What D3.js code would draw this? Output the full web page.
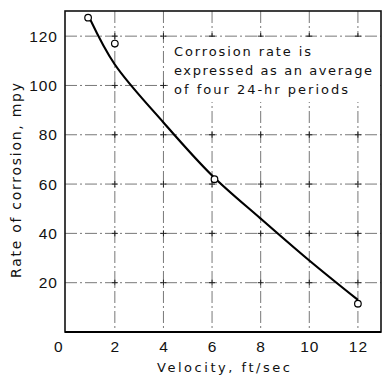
<!DOCTYPE html>
<html>
<head>
<meta charset="utf-8">
<script src="https://cdn.jsdelivr.net/npm/d3@7"></script>
<style>
  body { margin: 0; background: #fff; }
  svg { display: block; font-family: 'DejaVu Sans', sans-serif; }
  .grid line { stroke: #555; stroke-width: 0.8; stroke-dasharray: 12 3 2 3; }
</style>
</head>
<body>
<svg width="383" height="377"></svg>
<script>
// measured points (velocity ft/sec, rate mpy)
const pointX = [0.9, 2.0, 6.1, 12.0]
const pointY = [127.5, 117, 62, 11.5]
// fitted curve
const curveX = [1.0, 2.0, 4.0, 6.0, 8.0, 10.0, 12.0]
const curveY = [126.5, 108.5, 85, 63.5, 46, 29, 13]
const xTicks = [0, 2, 4, 6, 8, 10, 12]
const yTicks = [20, 40, 60, 80, 100, 120]
const note = ['Corrosion rate is', 'expressed as an average', 'of four 24-hr periods']
const noteWidth = [137, 198, 174]

const svg = d3.select('svg')
const pl = 65, pr = 381, pt = 11, pb = 332

const x = d3.scaleLinear().domain([-0.05, 12.95]).range([pl, pr])
const y = d3.scaleLinear().domain([0, 130.2]).range([pb, pt])

// grid
const grid = svg.append('g').attr('class', 'grid')
grid.selectAll('.gx').data(xTicks.filter(d => d > 0)).enter().append('line')
  .attr('x1', d => x(d)).attr('x2', d => x(d)).attr('y1', pt).attr('y2', pb)
grid.selectAll('.gy').data(yTicks).enter().append('line')
  .attr('x1', pl).attr('x2', pr).attr('y1', d => y(d)).attr('y2', d => y(d))

// little crosses at grid intersections
const crosses = []
xTicks.filter(d => d > 0).forEach(a => yTicks.forEach(b => crosses.push([a, b])))
svg.append('g').selectAll('path').data(crosses).enter().append('path')
  .attr('d', d => 'M' + (x(d[0]) - 3) + ',' + y(d[1]) + 'h6M' + x(d[0]) + ',' + (y(d[1]) - 3) + 'v6')
  .attr('stroke', '#222').attr('stroke-width', 1)

// blank box behind the note
svg.append('rect').attr('x', 168).attr('y', 37).attr('width', 210).attr('height', 65)
  .attr('fill', '#fff')

// frame
svg.append('rect')
  .attr('x', pl).attr('y', pt).attr('width', pr - pl).attr('height', pb - pt)
  .attr('fill', 'none').attr('stroke', '#111').attr('stroke-width', 1.6)
svg.append('line').attr('x1', pl).attr('x2', pr).attr('y1', pb).attr('y2', pb)
  .attr('stroke', '#000').attr('stroke-width', 2.2)

// axes labels
const xAxis = svg.append('g')
  .attr('transform', 'translate(0,' + pb + ')')
  .call(d3.axisBottom(x).tickValues(xTicks).tickSize(0).tickPadding(9))
xAxis.select('.domain').remove()
xAxis.selectAll('text').attr('font-size', 15.5).attr('fill', '#111').attr('font-family', 'inherit')
  .attr('letter-spacing', 1).attr('dx', d => d === 0 ? -8 : 0)

const yAxis = svg.append('g')
  .attr('transform', 'translate(' + pl + ',0)')
  .call(d3.axisLeft(y).tickValues(yTicks).tickSize(0).tickPadding(7))
yAxis.select('.domain').remove()
yAxis.selectAll('text').attr('font-size', 15.5).attr('fill', '#111').attr('font-family', 'inherit')
  .attr('letter-spacing', 1)

svg.append('text').attr('x', 157).attr('y', 372)
  .attr('font-size', 13).attr('fill', '#111')
  .attr('textLength', 133).attr('lengthAdjust', 'spacing')
  .text('Velocity, ft/sec')
svg.append('text').attr('transform', 'translate(21,278) rotate(-90)')
  .attr('font-size', 14).attr('fill', '#111')
  .attr('textLength', 195).attr('lengthAdjust', 'spacing')
  .text('Rate of corrosion, mpy')

// annotation
svg.append('g').selectAll('text').data(note).enter().append('text')
  .attr('x', 174).attr('y', (d, i) => 56 + i * 19)
  .attr('font-size', 13).attr('fill', '#111')
  .attr('textLength', (d, i) => noteWidth[i]).attr('lengthAdjust', 'spacing')
  .text(d => d)

// curve
const line = d3.line().x(d => x(d[0])).y(d => y(d[1])).curve(d3.curveCatmullRom.alpha(0.5))
svg.append('path').datum(d3.zip(curveX, curveY))
  .attr('d', line).attr('fill', 'none').attr('stroke', '#000').attr('stroke-width', 2.2)

// points
svg.append('g').selectAll('circle').data(d3.zip(pointX, pointY)).enter().append('circle')
  .attr('cx', d => x(d[0])).attr('cy', d => y(d[1])).attr('r', 3.3)
  .attr('fill', '#fff').attr('stroke', '#000').attr('stroke-width', 1.2)
</script>
</body>
</html>
